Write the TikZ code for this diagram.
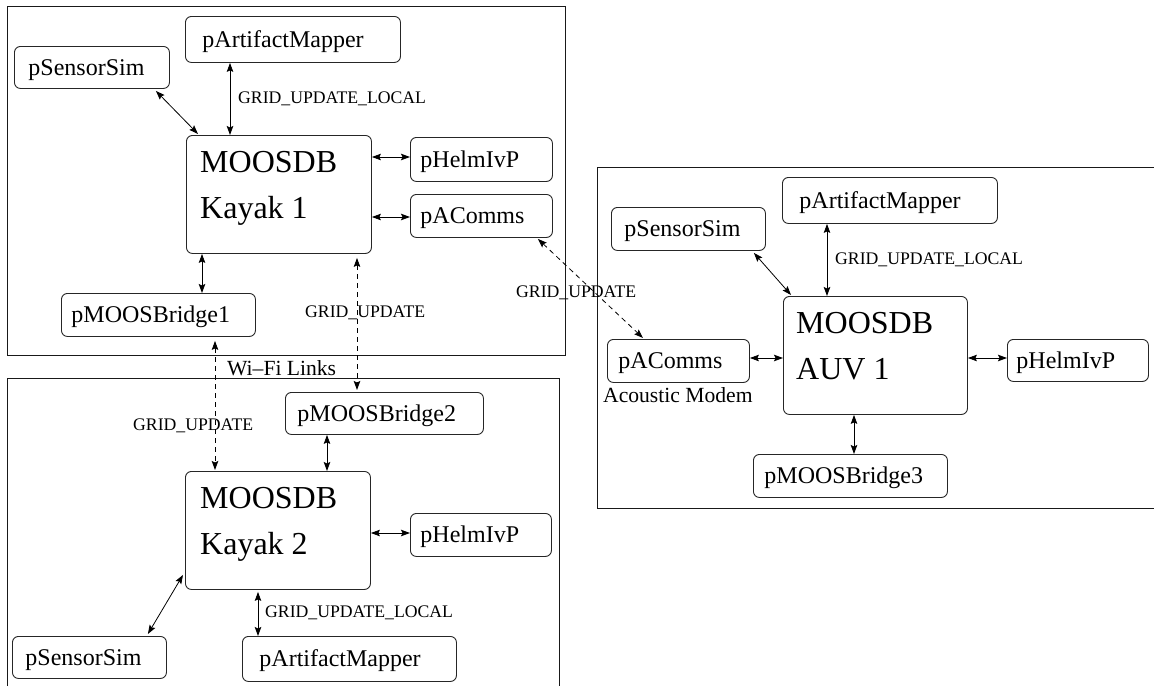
\documentclass[tikz,border=0pt]{standalone}
\usepackage{fontspec}
\setmainfont{Liberation Serif}
\usetikzlibrary{arrows.meta,calc}

\tikzset{
  frame/.style={draw=black!90, line width=1pt},
  pbox/.style={draw=black!85, line width=0.9pt, rounded corners=6pt,
    anchor=north west, align=left, inner ysep=0pt,
    text height=18pt, text depth=2pt, font=\fontsize{24}{28}\selectfont},
  psize/.style n args={3}{text width=#1, inner xsep=#2, minimum height=#3},
  dbbox/.style={draw=black!85, line width=0.9pt, rounded corners=6pt,
    anchor=north west, inner sep=0pt},
  dbtext/.style={anchor=north west, align=left, inner sep=0pt,
    font=\fontsize{32}{46}\selectfont},
  small/.style={anchor=west, inner sep=0pt, font=\fontsize{17.7}{20}\selectfont},
  note/.style={anchor=west, inner sep=0pt, font=\fontsize{21.6}{25}\selectfont},
  link/.style={{Stealth[length=9pt,width=6.5pt,inset=1.5pt]}-{Stealth[length=9pt,width=6.5pt,inset=1.5pt]},
    line width=0.8pt},
  wlink/.style={link, dash pattern=on 5pt off 4pt},
}

\begin{document}
\begin{tikzpicture}[x=1pt,y=-1pt]
\useasboundingbox (0,0) rectangle (1154,686);

% ---- vehicle frames ----
\draw[frame] (7,6) rectangle (565,355);
\draw[frame] (7,686) -- (7,378) -- (559,378) -- (559,686);
\draw[frame] (1154,167) -- (597,167) -- (597,508) -- (1154,508);

% ---- Kayak 1 ----
\node[pbox, psize={181pt}{17pt}{46pt}] (am1) at (185,16) {pArtifactMapper};
\node[pbox, psize={127pt}{14pt}{42pt}] (ss1) at (14,46) {pSensorSim};
\node[dbbox, minimum width=185pt, minimum height=118pt] (db1) at (186,135) {};
\node[dbtext] (db1t) at ($(db1.north west)+(14,16.5)$) {MOOSDB\\Kayak 1};
\node[pbox, psize={122pt}{10pt}{44pt}] (hv1) at (410,137) {pHelmIvP};
\node[pbox, psize={122pt}{10pt}{43pt}] (ac1) at (410,194) {pAComms};
\node[pbox, psize={174pt}{10pt}{43pt}] (br1) at (61,293) {pMOOSBridge1};

% ---- Kayak 2 ----
\node[pbox, psize={174pt}{12pt}{42pt}] (br2) at (285,392) {pMOOSBridge2};
\node[dbbox, minimum width=185pt, minimum height=118pt] (db2) at (185,471) {};
\node[dbtext] (db2t) at ($(db2.north west)+(15,16.5)$) {MOOSDB\\Kayak 2};
\node[pbox, psize={121pt}{10pt}{43pt}] (hv2) at (410,513) {pHelmIvP};
\node[pbox, psize={128pt}{13pt}{42pt}] (ss2) at (12,636) {pSensorSim};
\node[pbox, psize={180pt}{17pt}{45pt}] (am2) at (242,636) {pArtifactMapper};

% ---- AUV 1 ----
\node[pbox, psize={181pt}{17pt}{46pt}] (am3) at (782,177) {pArtifactMapper};
\node[pbox, psize={128pt}{13pt}{43pt}] (ss3) at (611,207) {pSensorSim};
\node[dbbox, minimum width=184pt, minimum height=118pt] (db3) at (783,296) {};
\node[dbtext] (db3t) at ($(db3.north west)+(13,16.5)$) {MOOSDB\\AUV 1};
\node[pbox, psize={120pt}{11pt}{43pt}] (ac3) at (607,339) {pAComms};
\node[pbox, psize={123pt}{9pt}{42pt}] (hv3) at (1007,339) {pHelmIvP};
\node[pbox, psize={172pt}{11pt}{43pt}] (br3) at (753,454) {pMOOSBridge3};

% ---- labels ----
\node[small] (l1) at (238,99) {GRID\_UPDATE\_LOCAL};
\node[small] (l2) at (305,313) {GRID\_UPDATE};
\node[note]  (wifi) at (227,368) {Wi--Fi Links};
\node[small] (l3) at (133,426) {GRID\_UPDATE};
\node[small] (l4) at (516,293) {GRID\_UPDATE};
\node[small] (l5) at (835,260) {GRID\_UPDATE\_LOCAL};
\node[small] (l6) at (265,613) {GRID\_UPDATE\_LOCAL};
\node[note]  (modem) at (603,395) {Acoustic Modem};

% ---- Kayak 1 links ----
\draw[link] ($(ss1.south east)+(-14,2)$) -- ($(db1.north west)+(12,-1)$);
\draw[link] ($(am1.south west)+(45,0)$) -- ($(db1.north west)+(44,0)$);
\draw[link] ($(db1.north east)+(0,22)$) -- ($(hv1.north west)+(0,20)$);
\draw[link] ($(db1.north east)+(0,82)$) -- ($(ac1.north west)+(0,23)$);
\draw[link] ($(db1.south west)+(16,0)$) -- ($(br1.north west)+(141,0)$);

% ---- wireless / acoustic links ----
\draw[wlink] ($(db1.south west)+(171,4)$) -- ($(br2.north west)+(72,-2)$);
\draw[wlink] ($(br1.south west)+(154,4)$) -- ($(db2.north west)+(30,-1)$);
\draw[wlink] ($(ac1.south east)+(-15,1)$) -- ($(ac3.north west)+(36,-1)$);

% ---- Kayak 2 links ----
\draw[link] ($(br2.south west)+(42,0)$) -- ($(db2.north west)+(142,0)$);
\draw[link] ($(db2.north east)+(0,62)$) -- ($(hv2.north west)+(0,20)$);
\draw[link] ($(db2.south west)+(-2,-15)$) -- ($(ss2.north east)+(-19,-2)$);
\draw[link] ($(db2.south west)+(73,2)$) -- ($(am2.north west)+(16,0)$);

% ---- AUV 1 links ----
\draw[link] ($(ss3.south east)+(-12,2)$) -- ($(db3.north west)+(8,-1)$);
\draw[link] ($(am3.south west)+(45,0)$) -- ($(db3.north west)+(44,0)$);
\draw[link] ($(ac3.north east)+(0,19)$) -- ($(db3.north west)+(0,62)$);
\draw[link] ($(db3.north east)+(0,62)$) -- ($(hv3.north west)+(0,19)$);
\draw[link] ($(db3.south west)+(71,0)$) -- ($(br3.north west)+(101,0)$);
\end{tikzpicture}
\end{document}
